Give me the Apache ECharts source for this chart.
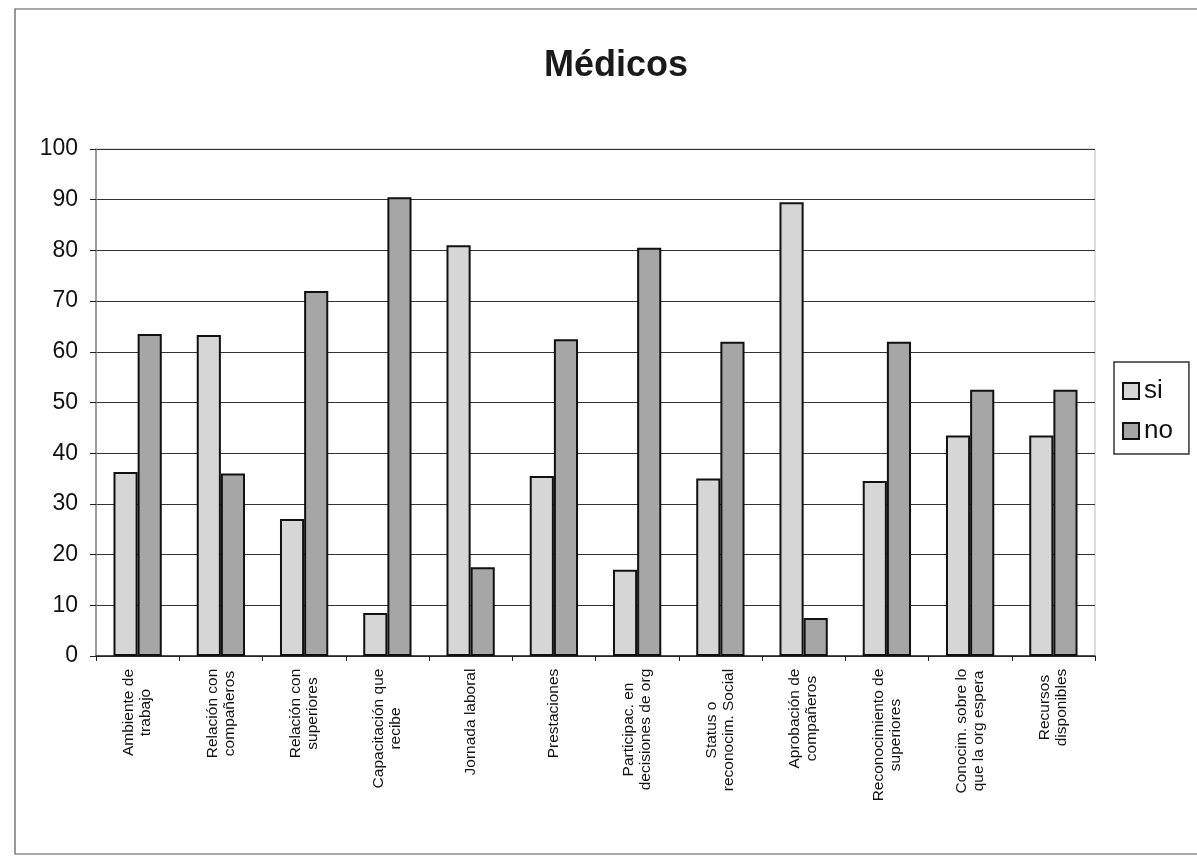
<!DOCTYPE html>
<html><head><meta charset="utf-8">
<script src="https://cdn.jsdelivr.net/npm/echarts@6/dist/echarts.min.js"></script>
<style>html,body{margin:0;padding:0;background:#fff}#c{width:1197px;height:859px}</style>
</head><body><div id="c"></div>
<script>
const categories = [
  "Ambiente de\ntrabajo",
  "Relación con\ncompañeros",
  "Relación con\nsuperiores",
  "Capacitación que\nrecibe",
  "Jornada laboral",
  "Prestaciones",
  "Participac. en\ndecisiones de org",
  "Status o\nreconocim. Social",
  "Aprobación de\ncompañeros",
  "Reconocimiento de\nsuperiores",
  "Conocim. sobre lo\nque la org espera",
  "Recursos\ndisponibles"
];
const siValues = [36.3, 63.3, 27, 8.5, 81, 35.5, 17, 35, 89.5, 34.5, 43.5, 43.5];
const noValues = [63.5, 36, 72, 90.5, 17.5, 62.5, 80.5, 62, 7.5, 62, 52.5, 52.5];
const seriesNames = ["si", "no"];
const yTicks = {min: 0, max: 100, interval: 10};

const font = '"Liberation Sans", Arial, sans-serif';
const labelSize = 15.5;
// measure label lines so multi-line labels can be centred line by line
const ctx = document.createElement('canvas').getContext('2d');
ctx.font = labelSize + 'px ' + font;
const rich = {};
const catIndex = {};
categories.forEach((c, i) => {
  catIndex[c] = i;
  const w = Math.max(...c.split('\n').map(l => ctx.measureText(l).width));
  rich['c' + i] = {width: Math.ceil(w) + 1, align: 'center', fontFamily: font, fontSize: labelSize, color: '#111', lineHeight: 17};
});

const chart = echarts.init(document.getElementById('c'), null, {renderer: 'canvas'});
chart.setOption({
  animation: false,
  backgroundColor: '#fff',
  title: {
    text: 'Médicos', left: 611, top: 43, textAlign: 'center',
    textStyle: {fontFamily: font, fontSize: 36, fontWeight: 'bold', color: '#1a1a1a'}
  },
  legend: {
    orient: 'vertical', left: 1114, top: 362,
    itemWidth: 16, itemHeight: 16, itemGap: 14,
    icon: 'rect',
    padding: [16, 16, 10, 8],
    borderColor: '#333', borderWidth: 1.5,
    textStyle: {fontFamily: font, fontSize: 26, color: '#111', padding: [0, 0, 0, 0]},
    data: seriesNames
  },
  grid: {left: 96, right: 102, top: 149, bottom: 203, show: true, borderColor: '#bbb', borderWidth: 1},
  xAxis: {
    type: 'category', data: categories,
    axisLine: {lineStyle: {color: '#222', width: 1.5}},
    axisTick: {show: true, lineStyle: {color: '#222'}},
    axisLabel: {
      rotate: 90, interval: 0, margin: 12,
      fontFamily: font, fontSize: labelSize, color: '#111', lineHeight: 17,
      formatter: v => v.split('\n').map(l => '{c' + catIndex[v] + '|' + l + '}').join('\n'),
      rich: rich
    }
  },
  yAxis: {
    type: 'value', min: yTicks.min, max: yTicks.max, interval: yTicks.interval,
    axisLine: {show: true, lineStyle: {color: '#888', width: 1.5}},
    axisTick: {show: true, length: 6, lineStyle: {color: '#222'}},
    axisLabel: {fontFamily: font, fontSize: 23, color: '#111', margin: 18},
    splitLine: {lineStyle: {color: '#333', width: 1.2}}
  },
  series: [
    {name: seriesNames[0], type: 'bar', data: siValues, barWidth: '29%', barGap: '0%',
     itemStyle: {color: '#d6d6d6', borderColor: '#111', borderWidth: 2}},
    {name: seriesNames[1], type: 'bar', data: noValues, barWidth: '29%',
     itemStyle: {color: '#a6a6a6', borderColor: '#111', borderWidth: 2}}
  ],
  graphic: [{
    type: 'rect', shape: {x: 15, y: 9, width: 1190, height: 845},
    style: {fill: 'none', stroke: '#555', lineWidth: 1.2}, silent: true
  }]
});
</script></body></html>
